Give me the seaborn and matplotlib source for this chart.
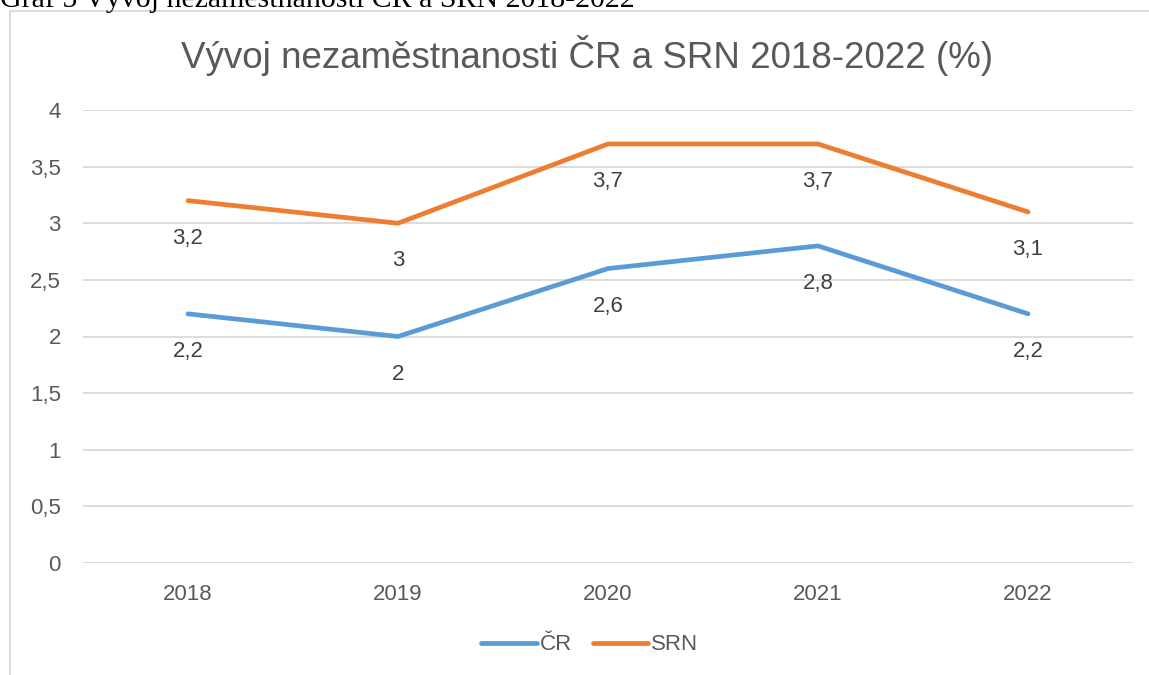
import matplotlib
matplotlib.use("Agg")
import matplotlib.pyplot as plt
import seaborn as sns
import pandas as pd
from matplotlib.patches import Rectangle
from matplotlib.lines import Line2D

years = ["2018", "2019", "2020", "2021", "2022"]
cr = [2.2, 2.0, 2.6, 2.8, 2.2]
srn = [3.2, 3.0, 3.7, 3.7, 3.1]
series_names = ["ČR", "SRN"]
yticks = [0, 0.5, 1, 1.5, 2, 2.5, 3, 3.5, 4]
title = "Vývoj nezaměstnanosti ČR a SRN 2018-2022 (%)"
caption = "Graf 5 Vývoj nezaměstnanosti ČR a SRN 2018-2022"

df = pd.DataFrame({
    "year": years * 2,
    "value": cr + srn,
    "series": [series_names[0]] * len(years) + [series_names[1]] * len(years),
})

sns.set_theme(style="white")
plt.rcParams["font.family"] = ["Liberation Sans", "DejaVu Sans"]

fig = plt.figure(figsize=(11.49, 6.75), dpi=100)
ax = fig.add_axes([83 / 1149, 1 - 563 / 675, 1050 / 1149, (563 - 110) / 675])

palette = {"ČR": "#5B9BD5", "SRN": "#ED7D31"}
lw = 3.4
sns.lineplot(data=df, x="year", y="value", hue="series", palette=palette,
             linewidth=lw, ax=ax, sort=False, legend=False)

for name, vals in zip(series_names, [cr, srn]):
    for i, v in enumerate(vals):
        ax.annotate(f"{v:g}".replace(".", ","), (i, v), xytext=(0, -27),
                    textcoords="offset points", ha="center", va="center",
                    fontsize=16, color="#404040")

ax.set_xlim(-0.5, len(years) - 0.5)
ax.set_ylim(0, 4)
ax.set_yticks(yticks)
ax.set_yticklabels([f"{t:g}".replace(".", ",") for t in yticks])
ax.grid(axis="y", color="#d9d9d9", linewidth=1.3)
ax.grid(axis="x", visible=False)
for s in ax.spines.values():
    s.set_visible(False)
ax.tick_params(axis="both", length=0, labelsize=16, labelcolor="#595959")
ax.tick_params(axis="y", pad=16)
ax.tick_params(axis="x", pad=15)
ax.set_xlabel("")
ax.set_ylabel("")

fig.text(587 / 1149, 1 - 55 / 675, title, ha="center", va="center",
         fontsize=26.5, color="#595959")

handles = [Line2D([0], [0], color=palette[n], linewidth=lw, solid_capstyle="round") for n in series_names]
fig.legend(handles, series_names, loc="center", bbox_to_anchor=(590 / 1149, 1 - 645 / 675),
           ncol=2, frameon=False, fontsize=16, labelcolor="#595959",
           handlelength=2.5, handletextpad=0.15, columnspacing=0.9)

fig.text(0.0, 1 - 7 / 675, caption, ha="left", va="baseline",
         fontsize=21.5, color="black", family=["Liberation Serif", "DejaVu Serif"])

fig.patches.append(Rectangle((10 / 1149, -0.1), 1.2, 1 - 11 / 675 + 0.1,
                             transform=fig.transFigure, fill=False,
                             edgecolor="#d9d9d9", linewidth=1.3))

fig.savefig("out.png", dpi=100)
